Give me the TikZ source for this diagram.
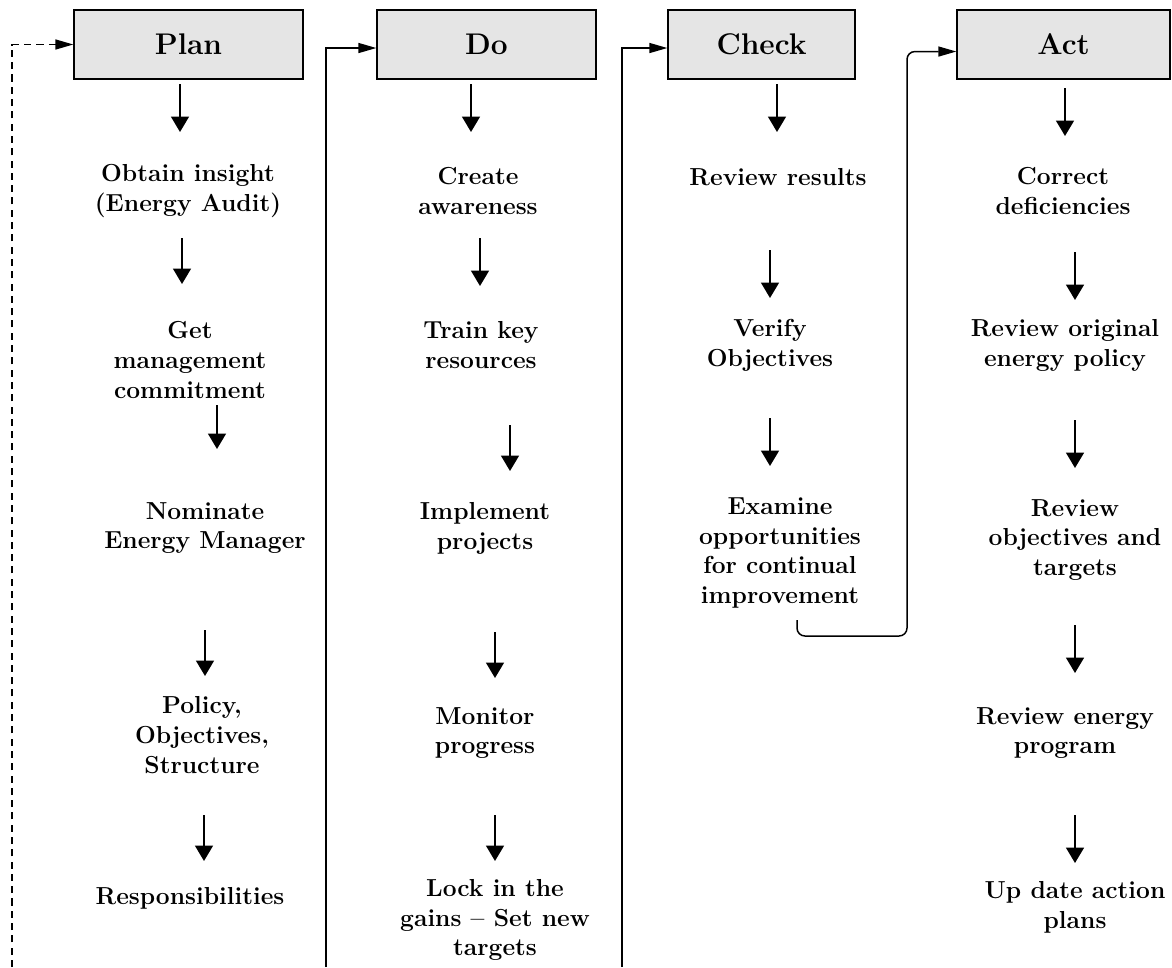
\documentclass[tikz,border=0pt]{standalone}
\usetikzlibrary{arrows.meta,positioning}
\begin{document}
\begin{tikzpicture}[x=0.02cm, y=-0.02cm, phase/.style={draw=black, line width=0.8pt, fill=black!10, minimum height=1.38cm, inner sep=0pt, font=\fontsize{17}{20}\selectfont\bfseries}, stp/.style={align=center, inner sep=0pt, font=\fontsize{14}{17}\selectfont\bfseries}, down/.style={-{Triangle[length=0.31cm, width=0.36cm]}, line width=1pt}, fb/.style={-{Triangle[length=0.36cm, width=0.2cm]}, line width=0.85pt}]
\useasboundingbox (0,0) rectangle (1172,967);
% phase boxes
\node[phase, minimum width=4.58cm] (plan) at (188.5,44.5) {Plan}; \node[phase, minimum width=4.38cm] (do) at (486.5,44.5) {Do}; \node[phase, minimum width=3.74cm] (check) at (761.5,44.5) {Check}; \node[phase, minimum width=4.26cm] (act) at (1063.5,44.5) {Act};
% plan column
\node[stp] (insight) at (188,191) {Obtain insight\\(Energy Audit)}; \node[stp] (commit) at (190,360) {Get\\management\\commitment}; \node[stp] (nominate) at (205,528) {Nominate\\Energy Manager}; \node[stp] (policy) at (202,735) {Policy,\\Objectives,\\Structure}; \node[stp] (resp) at (190,898) {Responsibilities};
% do column
\node[stp] (aware) at (478,191) {Create\\awareness}; \node[stp] (train) at (481,345) {Train key\\resources}; \node[stp] (implement) at (485,528) {Implement\\projects}; \node[stp] (monitor) at (485,733) {Monitor\\progress}; \node[stp] (lock) at (495,920) {Lock in the\\gains -- Set new\\targets};
% check column
\node[stp] (results) at (778,177) {Review results}; \node[stp] (verify) at (770,345) {Verify\\Objectives}; \node[stp] (examine) at (780,553) {Examine\\opportunities\\for continual\\improvement};
% act column
\node[stp] (correct) at (1063,191) {Correct\\deficiencies}; \node[stp] (original) at (1065,345) {Review original\\energy policy}; \node[stp] (targets) at (1075,540) {Review\\objectives and\\targets}; \node[stp] (program) at (1065,733) {Review energy\\program}; \node[stp] (update) at (1075,907) {Up date action\\plans};
% step arrows
\foreach \x/\a/\b in {180/84/132, 182/238/284, 217/405/449, 205/630/676, 204/815/861, 471/84/132, 480/238/286, 510/425/471, 495/632/678, 495/815/861, 777/84/132, 770/250/298, 770/418/466, 1065/88/136, 1075/252/300, 1075/420/468, 1075/625/673, 1075/815/863}
  \draw[down] (\x,\a) -- (\x,\b);
% feedback lines
\coordinate (fbplan) at (12,967); \coordinate (fbdo) at (326,967); \coordinate (fbcheck) at (622,967); \coordinate (fbact) at (797,620);
\draw[fb, dash pattern=on 4pt off 3pt] (fbplan) |- (plan.west); \draw[fb] (fbdo) |- ([yshift=-2pt]do.west); \draw[fb] (fbcheck) |- ([yshift=-2pt]check.west); \draw[fb, rounded corners=4.5pt] (fbact) |- ++(110,16) |- ([yshift=-4pt]act.west);
\end{tikzpicture}
\end{document}
